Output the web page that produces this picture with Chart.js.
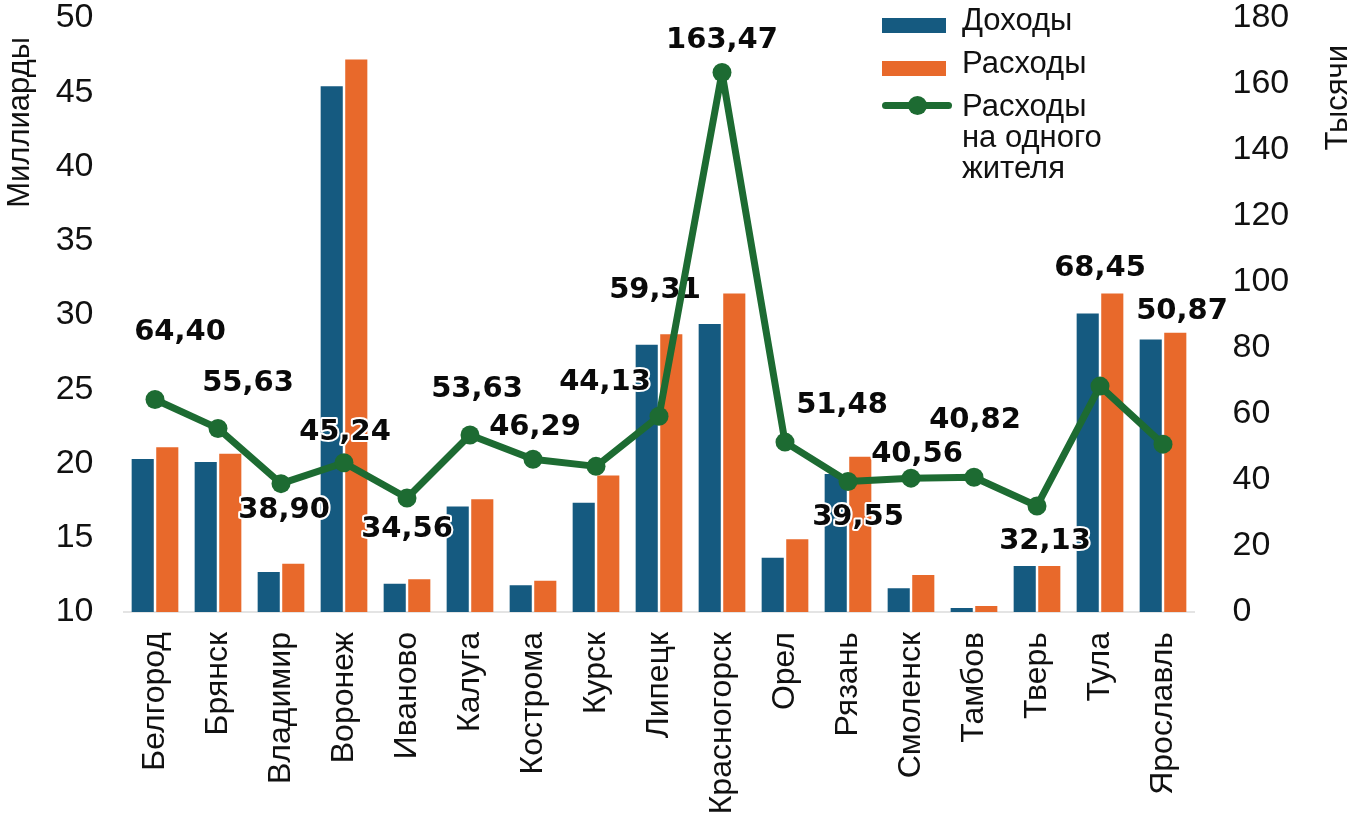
<!DOCTYPE html>
<html lang="ru">
<head>
<meta charset="utf-8">
<title>Доходы и расходы</title>
<script src="https://cdn.jsdelivr.net/npm/chart.js@4.4.0/dist/chart.umd.min.js"></script>
<style>
  html, body { margin: 0; padding: 0; background: #fff; }
  #wrap { position: relative; width: 1358px; height: 820px; }
  .leyenda { position: absolute; left: 882px; top: 4px; font: 31px "Liberation Sans", Arial, sans-serif; color: #111; }
  .fila { position: relative; height: 43px; }
  .caja { position: absolute; left: 0; top: 14px; width: 64px; height: 15px; }
  .txt { position: absolute; left: 80px; top: 0; line-height: 31px; white-space: nowrap; }
  .linea { position: absolute; left: 0; top: 100px; width: 70px; height: 7px; background: #1d6b32; border-radius: 4px; }
  .punto { position: absolute; left: 26px; top: -6px; width: 19px; height: 19px; border-radius: 50%; background: #1d6b32; }
</style>
</head>
<body>
<div id="wrap">
  <canvas id="grafico" width="1358" height="820"></canvas>
  <div class="leyenda">
    <div class="fila"><div class="caja" style="background:#155a80"></div><div class="txt">Доходы</div></div>
    <div class="fila"><div class="caja" style="background:#e8692b"></div><div class="txt">Расходы</div></div>
    <div class="fila" style="height:100px"><div class="linea" style="top:12px"><div class="punto"></div></div><div class="txt">Расходы<br>на одного<br>жителя</div></div>
  </div>
</div>
<script>
// datos
const regiones = ['Белгород', 'Брянск', 'Владимир', 'Воронеж', 'Иваново', 'Калуга', 'Кострома', 'Курск',
  'Липецк', 'Красногорск', 'Орел', 'Рязань', 'Смоленск', 'Тамбов', 'Тверь', 'Тула', 'Ярославль'];
const doxody = [20.3, 20.1, 12.7, 45.4, 11.9, 17.1, 11.8, 17.35, 28.0, 29.4, 13.65, 19.3, 11.6, 10.27, 13.1, 30.1, 28.35];
const rasxody = [21.1, 20.65, 13.25, 47.2, 12.2, 17.6, 12.1, 19.2, 28.7, 31.45, 14.9, 20.45, 12.5, 10.4, 13.1, 31.45, 28.8];
const naZhitelya = [64.40, 55.63, 38.90, 45.24, 34.56, 53.63, 46.29, 44.13, 59.31, 163.47, 51.48, 39.55, 40.56, 40.82, 32.13, 68.45, 50.87];
const ticksIzq = [10, 15, 20, 25, 30, 35, 40, 45, 50];
const ticksDer = [0, 20, 40, 60, 80, 100, 120, 140, 160, 180];

// donde va cada etiqueta respecto a su punto (px)
const desplaz = [[25, -67], [30, -45], [3, 27], [1, -30], [0, 32], [7, -46], [2, -32], [9, -84], [-4, -126],
  [0, -32], [57, -37], [10, 36], [6, -24], [1, -57], [8, 35], [0, -118], [19, -133]];

const AZUL = '#155a80', NARANJA = '#e8692b', VERDE = '#1d6b32';
const fuente = '"Liberation Sans", Arial, sans-serif';

const etiquetas = {
  id: 'etiquetas',
  beforeDatasetDraw(chart, args) {
    if (args.index !== 2) return;
    const ctx = chart.ctx;
    const meta = chart.getDatasetMeta(2);
    ctx.save();
    ctx.font = 'bold 29px "DejaVu Sans", sans-serif';
    ctx.textAlign = 'center';
    ctx.textBaseline = 'middle';
    ctx.lineJoin = 'round';
    meta.data.forEach((p, i) => {
      const txt = naZhitelya[i].toFixed(2).replace('.', ',');
      const x = p.x + desplaz[i][0], y = p.y + desplaz[i][1];
      ctx.strokeStyle = '#fff';
      ctx.lineWidth = 4;
      ctx.strokeText(txt, x, y);
      ctx.fillStyle = '#0a0a0a';
      ctx.fillText(txt, x, y);
    });
    ctx.restore();
  }
};

const titulos = {
  id: 'titulos',
  afterDraw(chart) {
    const ctx = chart.ctx;
    ctx.save();
    ctx.font = '31px ' + fuente;
    ctx.fillStyle = '#111';
    ctx.textBaseline = 'middle';
    ctx.textAlign = 'right';
    ctx.translate(20, 37);
    ctx.rotate(-Math.PI / 2);
    ctx.fillText('Миллиарды', 0, 0);
    ctx.restore();
    ctx.save();
    ctx.font = '31px ' + fuente;
    ctx.fillStyle = '#111';
    ctx.textBaseline = 'middle';
    ctx.textAlign = 'right';
    ctx.translate(1338, 45);
    ctx.rotate(-Math.PI / 2);
    ctx.fillText('Тысячи', 0, 0);
    ctx.restore();
  }
};

// quitar el relleno automatico de las escalas
function sinRelleno(s) {
  s.paddingTop = 0; s.paddingBottom = 0; s.paddingLeft = 0; s.paddingRight = 0;
}

new Chart(document.getElementById('grafico'), {
  type: 'bar',
  data: {
    labels: regiones,
    datasets: [
      { label: 'Доходы', data: doxody, backgroundColor: AZUL, yAxisID: 'y', order: 1,
        barPercentage: 0.9, categoryPercentage: 0.78 },
      { label: 'Расходы', data: rasxody, backgroundColor: NARANJA, yAxisID: 'y', order: 1,
        barPercentage: 0.9, categoryPercentage: 0.78 },
      { type: 'line', label: 'Расходы на одного жителя', data: naZhitelya, yAxisID: 'y1', order: 0,
        borderColor: VERDE, backgroundColor: VERDE, borderWidth: 7, pointRadius: 9.5,
        borderJoinStyle: 'round', borderCapStyle: 'round',
        pointBackgroundColor: VERDE, pointBorderWidth: 0, tension: 0 }
    ]
  },
  options: {
    responsive: false,
    animation: false,
    layout: { autoPadding: false, padding: { top: 18, left: 0, right: 0, bottom: 0 } },
    plugins: { legend: { display: false }, tooltip: { enabled: false } },
    scales: {
      x: {
        grid: { display: false },
        border: { display: true, color: '#e4e4e4', width: 2 },
        ticks: { autoSkip: false, minRotation: 90, maxRotation: 90, padding: 12, color: '#111',
          font: { family: fuente, size: 32 } },
        afterFit(s) { s.height = 208; sinRelleno(s); }
      },
      y: {
        position: 'left', min: 10, max: 50,
        grid: { display: false }, border: { display: false },
        afterBuildTicks(s) { s.ticks = ticksIzq.map(v => ({ value: v })); },
        ticks: { padding: 22, color: '#111', font: { family: fuente, size: 34 } },
        afterFit(s) { s.width = 123.5; sinRelleno(s); }
      },
      y1: {
        position: 'right', min: 0, max: 180,
        grid: { display: false }, border: { display: false },
        afterBuildTicks(s) { s.ticks = ticksDer.map(v => ({ value: v })); },
        ticks: { padding: 30, color: '#111', font: { family: fuente, size: 34 } },
        afterFit(s) { s.width = 163.5; sinRelleno(s); }
      }
    }
  },
  plugins: [etiquetas, titulos]
});
</script>
</body>
</html>
